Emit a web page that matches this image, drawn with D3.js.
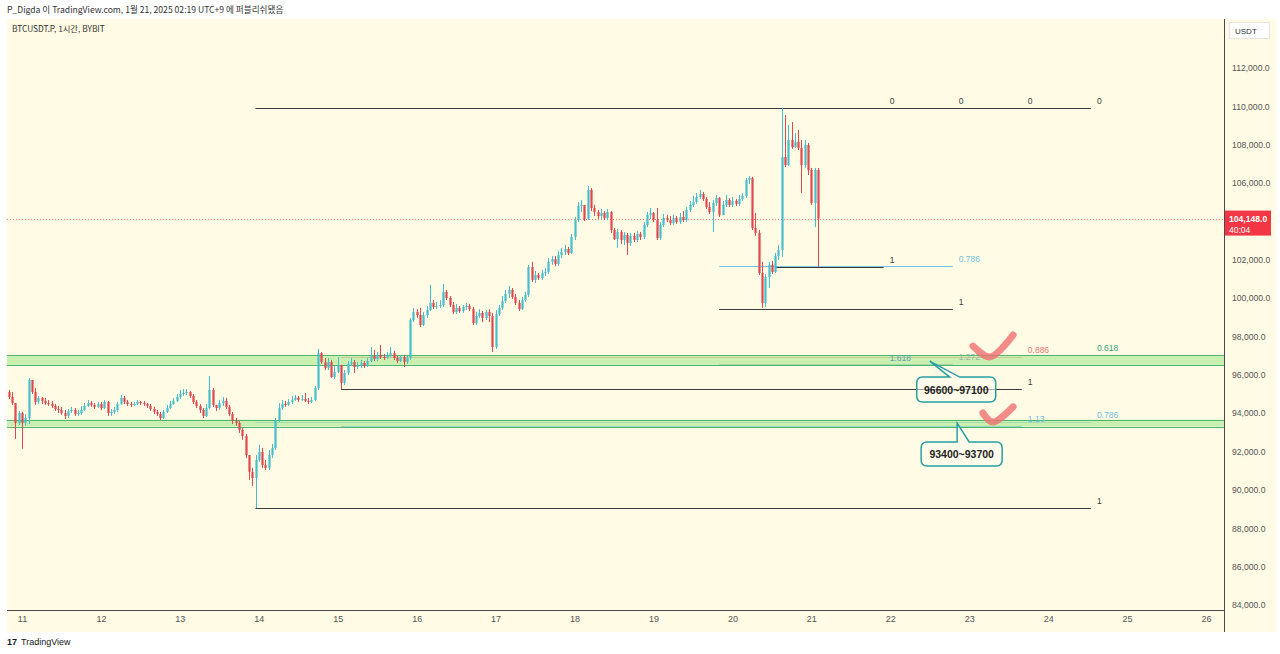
<!DOCTYPE html>
<html>
<head>
<meta charset="utf-8">
<script src="https://cdn.jsdelivr.net/npm/d3@7"></script>
<style>
  body { margin: 0; background: #fff; }
  svg { display: block; }
</style>
</head>
<body>
<svg id="chart"></svg>
<script>
// BTCUSDT.P 1h candles, first bar = Jan 10 20:00 (chart time, UTC+9)
const firstBar = Date.UTC(2025, 0, 10, 20);
const firstOpen = 95110;

const closes = [
  94850, 94530, 93490, 94010, 93490, 93750, 95730, 95110, 94590, 94800, 94640, 94530,
  94480, 94380, 94220, 94170, 94010, 93860, 94120, 94170, 93960, 94010, 94170, 94380,
  94530, 94430, 94330, 94480, 94270, 94590, 94010, 94070, 94170, 94480, 94800, 94590,
  94480, 94430, 94480, 94590, 94530, 94480, 94380, 94220, 94070, 93960, 93750, 94070,
  94270, 94480, 94640, 94850, 95000, 95060, 95110, 94900, 94590, 94380, 94170, 93860,
  94270, 95210, 94430, 94270, 94530, 94640, 94330, 93960, 93600, 93490, 93130, 92810,
  91820, 90940, 90620, 91560, 91980, 91300, 91150, 91820, 92190, 93650, 94270, 94480,
  94430, 94590, 94690, 94800, 94690, 94740, 94640, 94590, 94690, 95320, 97140, 96670,
  96360, 96670, 95890, 96150, 96520, 95580, 96100, 96570, 96670, 96410, 96460, 96620,
  96460, 96720, 96990, 96830, 97040, 96930, 96880, 97040, 97140, 96880, 96720, 96930,
  96670, 96880, 98860, 99280, 99120, 98600, 99120, 99380, 99750, 99540, 99590, 99640,
  100320, 100010, 99640, 99280, 99490, 99330, 99540, 99590, 99430, 98700, 99070, 99230,
  98970, 99280, 99070, 97450, 99170, 99490, 99850, 100220, 100430, 100060, 99750, 99430,
  99900, 100170, 101620, 100950, 101210, 101050, 101310, 101360, 101890, 102040, 101780, 102250,
  102410, 102560, 102350, 103190, 104070, 104800, 104860, 104130, 105640, 104700, 104490, 104280,
  104440, 104180, 104490, 103550, 103080, 103450, 103030, 103290, 102880, 103240, 103030, 103350,
  103190, 103810, 104340, 104440, 104070, 103140, 103810, 104180, 104070, 103920, 104180, 103970,
  104230, 104070, 104600, 104860, 105010, 105270, 105430, 105170, 104750, 104490, 104960, 105220,
  104340, 104860, 105120, 104860, 105070, 104910, 105170, 105330, 106160, 106270, 103660, 103400,
  101310, 99750, 101100, 101730, 101360, 102200, 102510, 107360, 106940, 108250, 107880, 108140,
  107830, 106940, 107980, 106680, 104960, 106680, 104148
];

const highs = [
  95210, 95110, 94530, 94120, 94070, 93960, 95840, 95730, 95320, 94900, 94850, 94800,
  94690, 94640, 94480, 94380, 94330, 94170, 94220, 94330, 94270, 94170, 94380, 94530,
  94690, 94640, 94530, 94590, 94590, 94690, 94640, 94220, 94330, 94590, 94950, 94900,
  94690, 94590, 94590, 94690, 94640, 94640, 94530, 94480, 94330, 94170, 94070, 94170,
  94430, 94640, 94800, 95000, 95210, 95260, 95260, 95160, 95000, 94690, 94480, 94270,
  94480, 95940, 95320, 94430, 94690, 94850, 94800, 94430, 94070, 93750, 93600, 93230,
  92920, 91820, 91150, 91820, 92350, 92190, 91560, 92080, 92400, 93750, 94530, 94690,
  94640, 94740, 94900, 94950, 94900, 94950, 95060, 94800, 94850, 95420, 97350, 97190,
  96880, 96880, 96780, 96460, 96930, 96520, 96260, 96720, 96880, 96780, 96670, 96780,
  96720, 96880, 97450, 97300, 97190, 97560, 97090, 97190, 97450, 97250, 96990, 97040,
  97040, 96990, 98970, 99490, 99430, 99490, 99280, 99590, 100690, 99900, 99800, 99900,
  100740, 100430, 100110, 99800, 99700, 99590, 99640, 99750, 99700, 99540, 99280, 99430,
  99330, 99380, 99430, 99230, 99380, 99640, 100110, 100430, 100630, 100530, 100220, 99900,
  100060, 100320, 101730, 101890, 101420, 101310, 101470, 101570, 102090, 102200, 102200, 102460,
  102620, 102770, 102670, 103340, 104230, 105010, 105120, 104860, 105850, 105740, 104860, 104600,
  104650, 104540, 104650, 104540, 103660, 103610, 103550, 103450, 103400, 103400, 103400, 103500,
  103450, 103970, 104490, 104700, 104490, 104700, 103970, 104390, 104340, 104280, 104340, 104280,
  104440, 104540, 104750, 105070, 105330, 105480, 105640, 105540, 105270, 105010, 105120, 105380,
  105270, 105070, 105380, 105220, 105270, 105170, 105380, 105480, 106270, 106370, 106320, 104440,
  103550, 101890, 101260, 101890, 101940, 102350, 102770, 109910, 109550, 109030, 109180, 108610,
  108770, 108250, 108250, 108090, 106790, 106790, 106790
];

const lows = [
  94740, 94430, 92660, 93390, 92140, 93340, 93440, 95000, 94430, 94480, 94480, 94430,
  94380, 94270, 94120, 94010, 93910, 93700, 93750, 94010, 93860, 93860, 93910, 94120,
  94330, 94330, 94220, 94270, 94170, 94220, 93860, 93860, 93960, 94070, 94430, 94480,
  94380, 94330, 94380, 94430, 94430, 94380, 94270, 94120, 93960, 93860, 93650, 93700,
  94010, 94220, 94430, 94590, 94740, 94900, 94950, 94800, 94480, 94270, 94010, 93750,
  93800, 94220, 94330, 94120, 94170, 94380, 94220, 93860, 93440, 93340, 92970, 92610,
  91670, 90520, 90210, 89060, 91460, 91150, 91040, 91040, 91670, 92080, 93540, 94170,
  94330, 94380, 94480, 94640, 94590, 94640, 94590, 94480, 94530, 94640, 95210, 96570,
  96250, 96250, 95840, 95790, 96100, 95260, 95470, 95990, 96460, 96100, 96310, 96360,
  96360, 96410, 96670, 96720, 96720, 96830, 96780, 96830, 96930, 96780, 96620, 96670,
  96410, 96570, 96780, 98760, 98970, 98500, 98550, 98970, 99330, 99430, 99430, 99490,
  99540, 99900, 99540, 99170, 99170, 99230, 99230, 99380, 99330, 98600, 98600, 98970,
  98760, 98860, 98760, 97190, 97350, 99070, 99380, 99750, 100010, 99960, 99640, 99330,
  99380, 99800, 100060, 100840, 100790, 100950, 100950, 101160, 101260, 101730, 101680, 101680,
  102090, 102250, 102250, 102300, 103030, 103970, 104490, 104020, 104070, 104540, 104280, 104130,
  104130, 104070, 104070, 103400, 103030, 102620, 102820, 102770, 102250, 102720, 102930, 102930,
  103030, 103080, 103710, 104130, 103970, 103030, 103030, 103710, 103970, 103810, 103810, 103870,
  103870, 103970, 103970, 104490, 104750, 104910, 105170, 105070, 104650, 104390, 103450, 104800,
  104230, 104340, 104750, 104750, 104750, 104800, 104800, 105070, 105220, 105950, 103550, 103240,
  101210, 99490, 99540, 100530, 101260, 101310, 101990, 102150, 106840, 106890, 107780, 107830,
  107720, 105480, 106790, 106420, 104860, 103710, 101630
];

const priceTicks = [84000, 86000, 88000, 90000, 92000, 94000, 96000, 98000, 100000, 102000, 104000, 106000, 108000, 110000, 112000];
const dayTicks = [11, 12, 13, 14, 15, 16, 17, 18, 19, 20, 21, 22, 23, 24, 25, 26];
const lastPrice = 104148;
const countdown = '40:04';

// fibonacci tools drawn on the chart: anchors in time / price, visible levels
const fibTools = [
  { t0: '2025-01-20T13:00Z', t1: '2025-01-21T22:00Z', p0: 109914, p1: 101630, levels: [0, 1, 1.618] },
  { t0: '2025-01-19T20:00Z', t1: '2025-01-22T19:00Z', p0: 109914, p1: 99430, levels: [0, 0.786, 1, 1.272] },
  { t0: '2025-01-15T01:00Z', t1: '2025-01-23T16:00Z', p0: 109914, p1: 95260, levels: [0, 0.886, 1, 1.13] },
  { t0: '2025-01-13T23:00Z', t1: '2025-01-24T13:00Z', p0: 109914, p1: 89060, levels: [0, 0.618, 0.786, 1] }
];

// support zones (price ranges) and their callouts
const zoneLow = [96520, 93300];
const zoneHigh = [97040, 93660];
const zoneLabels = ['96600~97100', '93400~93700'];
const calloutTipTime = ['2025-01-22T12:00Z', '2025-01-22T20:20Z'];
const calloutTipPrice = [96720, 93490];

// hand-drawn check marks: [time, price] points
const checkMarks = [
  [['2025-01-23T01:10Z', 97500], ['2025-01-23T06:20Z', 96930], ['2025-01-23T13:20Z', 98080]],
  [['2025-01-23T04:10Z', 94010], ['2025-01-23T07:10Z', 93540], ['2025-01-23T13:20Z', 94330]]
];

const W = 1280, H = 654;
const plotL = 7, plotR = 1224, plotT = 19, plotB = 610;
const upColor = '#45bfcd', downColor = '#e4464f';
const font = '"Liberation Sans", Arial, sans-serif';

const svg = d3.select('#chart').attr('width', W).attr('height', H)
  .style('font-family', font);

const x = d3.scaleUtc()
  .domain([Date.UTC(2025, 0, 11), Date.UTC(2025, 0, 26)])
  .range([22, 1206]);

const y = d3.scaleLinear()
  .domain([84000, 112000])
  .range([605, 68]);

const bars = closes.map((c, i) => ({
  t: new Date(firstBar + i * 3600e3),
  o: i === 0 ? firstOpen : closes[i - 1],
  c: c,
  h: highs[i],
  l: lows[i]
}));

// backgrounds
svg.append('rect').attr('width', W).attr('height', H).attr('fill', '#fff');
svg.append('rect')
  .attr('x', plotL).attr('y', plotT)
  .attr('width', 1276 - plotL).attr('height', 632 - plotT)
  .attr('fill', '#fffbe4');

const defs = svg.append('defs');
defs.append('clipPath').attr('id', 'plot')
  .append('rect').attr('x', plotL).attr('y', plotT)
  .attr('width', plotR - plotL).attr('height', plotB - plotT);

const plot = svg.append('g').attr('clip-path', 'url(#plot)');

// current price dotted line
plot.append('line')
  .attr('x1', plotL).attr('x2', plotR)
  .attr('y1', Math.round(y(lastPrice)) + 0.5).attr('y2', Math.round(y(lastPrice)) + 0.5)
  .attr('stroke', '#ef5350').attr('stroke-opacity', 0.8)
  .attr('stroke-dasharray', '1,2');

// fib levels
const levelColor = {
  0: '#3b3b3b', 1: '#3b3b3b', 0.618: '#3aa97a', 0.786: '#7cc3e6',
  0.886: '#f2777c', 1.13: '#7cc3e6', 1.272: '#8fb3a8', 1.618: '#3d9ad8'
};
const levelText = {
  0: '#3b3b3b', 1: '#3b3b3b', 0.618: '#36a17a', 0.786: '#72bfe3',
  0.886: '#f0767b', 1.13: '#72bfe3', 1.272: '#9bb8ae', 1.618: '#5f9fb0'
};

const fibLines = svg.append('g');
const fibLabels = [];
fibTools.forEach(tool => {
  const xa = x(new Date(tool.t0)), xb = x(new Date(tool.t1));
  tool.levels.forEach(lv => {
    const p = tool.p0 + (tool.p1 - tool.p0) * lv;
    const yy = Math.round(y(p)) + 0.5;
    fibLines.append('line')
      .attr('x1', xa).attr('x2', xb).attr('y1', yy).attr('y2', yy)
      .attr('stroke', levelColor[lv]).attr('stroke-width', 1);
    fibLabels.push({ x: xb + 6, y: yy - 5, lv: lv });
  });
});

// zones, drawn over the fib lines so those look muted inside the bands
const zoneG = svg.append('g').attr('clip-path', 'url(#plot)');
zoneLow.forEach((lo, i) => {
  zoneG.append('rect')
    .attr('x', plotL).attr('width', plotR - plotL)
    .attr('y', y(zoneHigh[i])).attr('height', y(lo) - y(zoneHigh[i]))
    .attr('fill', '#b6ec9c').attr('fill-opacity', 0.72);
  [zoneHigh[i], lo].forEach(p => {
    zoneG.append('line')
      .attr('x1', plotL).attr('x2', plotR)
      .attr('y1', Math.round(y(p)) + 0.5).attr('y2', Math.round(y(p)) + 0.5)
      .attr('stroke', '#52b56f').attr('stroke-width', 1.2);
  });
});

// fib level labels sit above the zones
svg.append('g').selectAll('text').data(fibLabels).enter().append('text')
  .attr('x', d => d.x).attr('y', d => d.y)
  .attr('font-size', 8.5)
  .attr('fill', d => levelText[d.lv])
  .text(d => String(d.lv));

// candles
const candles = svg.append('g').attr('clip-path', 'url(#plot)');
const cg = candles.selectAll('g.bar').data(bars).enter().append('g').attr('class', 'bar');
cg.append('line')
  .attr('x1', d => Math.round(x(d.t)) + 0.5)
  .attr('x2', d => Math.round(x(d.t)) + 0.5)
  .attr('y1', d => y(d.h))
  .attr('y2', d => y(d.l))
  .attr('stroke', d => d.c >= d.o ? upColor : downColor)
  .attr('stroke-width', 1);
cg.append('rect')
  .attr('x', d => Math.round(x(d.t)) - 0.6)
  .attr('width', 2.2)
  .attr('y', d => y(Math.max(d.o, d.c)))
  .attr('height', d => Math.max(1, Math.abs(y(d.o) - y(d.c))))
  .attr('fill', d => d.c >= d.o ? upColor : downColor);

// callouts
const callG = svg.append('g');
const callShape = [
  { bx0: -13, bx1: 66, by0: 16, by1: 41, ta: 20, tb: 30 },
  { bx0: -36, bx1: 45, by0: 19, by1: 43, ta: 0, tb: 12 }
];
zoneLabels.forEach((lab, i) => {
  const tx = x(new Date(calloutTipTime[i])), ty = y(calloutTipPrice[i]);
  const s = callShape[i], r = 6;
  const x0 = tx + s.bx0, x1 = tx + s.bx1, y0 = ty + s.by0, y1 = ty + s.by1;
  const path = d3.path();
  path.moveTo(x0 + r, y0);
  path.lineTo(tx + s.ta, y0);
  path.lineTo(tx, ty);
  path.lineTo(tx + s.tb, y0);
  path.lineTo(x1 - r, y0);
  path.quadraticCurveTo(x1, y0, x1, y0 + r);
  path.lineTo(x1, y1 - r);
  path.quadraticCurveTo(x1, y1, x1 - r, y1);
  path.lineTo(x0 + r, y1);
  path.quadraticCurveTo(x0, y1, x0, y1 - r);
  path.lineTo(x0, y0 + r);
  path.quadraticCurveTo(x0, y0, x0 + r, y0);
  path.closePath();
  callG.append('path')
    .attr('d', path.toString())
    .attr('fill', 'rgba(255,253,240,0.55)')
    .attr('stroke', '#2a9fa3').attr('stroke-width', 1.5);
  callG.append('text')
    .attr('x', (x0 + x1) / 2).attr('y', (y0 + y1) / 2 + 4)
    .attr('text-anchor', 'middle')
    .attr('font-size', 10.5).attr('font-weight', 'bold')
    .attr('fill', '#222')
    .text(lab);
});

// check marks
const checkLine = d3.line()
  .x(d => x(new Date(d[0])))
  .y(d => y(d[1]))
  .curve(d3.curveCatmullRom.alpha(0.5));
checkMarks.forEach(pts => {
  svg.append('path')
    .attr('d', checkLine(pts))
    .attr('fill', 'none')
    .attr('stroke', '#f06f72').attr('stroke-opacity', 0.8)
    .attr('stroke-width', 7)
    .attr('stroke-linecap', 'round').attr('stroke-linejoin', 'round');
});

// axes (the tick hidden behind the last-price tag is left out)
const ly = y(lastPrice);
const yAxis = d3.axisRight(y)
  .tickValues(priceTicks.filter(p => Math.abs(y(p) - ly - 4) > 14))
  .tickSize(0)
  .tickPadding(8)
  .tickFormat(d3.format(',.1f'));
const gy = svg.append('g').attr('transform', 'translate(' + plotR + ',0)').call(yAxis);
gy.select('.domain').remove();
gy.selectAll('text').attr('font-size', 8.6).attr('fill', '#555').attr('font-family', font);

const xAxis = d3.axisBottom(x)
  .tickValues(dayTicks.map(d => new Date(Date.UTC(2025, 0, d))))
  .tickSize(0)
  .tickPadding(6)
  .tickFormat(d3.utcFormat('%-d'));
const gx = svg.append('g').attr('transform', 'translate(0,' + plotB + ')').call(xAxis);
gx.select('.domain').remove();
gx.selectAll('text').attr('font-size', 9).attr('fill', '#555').attr('font-family', font);

svg.append('line')
  .attr('x1', plotL).attr('x2', plotR + 0.5).attr('y1', plotB + 0.5).attr('y2', plotB + 0.5)
  .attr('stroke', '#4a4a4a');
svg.append('line')
  .attr('x1', plotR + 0.5).attr('x2', plotR + 0.5).attr('y1', plotT).attr('y2', 632)
  .attr('stroke', '#4a4a4a');

// last price tag
svg.append('rect')
  .attr('x', plotR + 1).attr('y', ly - 8).attr('width', 46).attr('height', 25)
  .attr('fill', '#f23645');
svg.append('text')
  .attr('x', plotR + 5).attr('y', ly + 3)
  .attr('font-size', 8.6).attr('font-weight', 'bold').attr('fill', '#fff')
  .text(d3.format(',.1f')(lastPrice));
svg.append('text')
  .attr('x', plotR + 5).attr('y', ly + 14)
  .attr('font-size', 8.5).attr('fill', '#fff')
  .text(countdown);

// currency box
svg.append('rect')
  .attr('x', 1229.5).attr('y', 22.5).attr('width', 40).attr('height', 16)
  .attr('fill', '#fff').attr('stroke', '#e3e3e3');
svg.append('text')
  .attr('x', 1235).attr('y', 34)
  .attr('font-size', 8).attr('fill', '#333')
  .text('USDT');

// header and titles
svg.append('text')
  .attr('x', 7).attr('y', 13)
  .attr('font-size', 8.6).attr('fill', '#333')
  .attr('font-family', '"Noto Sans CJK KR", "Noto Sans", sans-serif')
  .text('P_Digda 이 TradingView.com, 1월 21, 2025 02:19 UTC+9 에 퍼블리쉬됐음');
svg.append('text')
  .attr('x', 12).attr('y', 32)
  .attr('font-size', 8.3).attr('fill', '#333')
  .attr('font-family', '"Noto Sans CJK KR", "Noto Sans", sans-serif')
  .text('BTCUSDT.P, 1시간, BYBIT');

// footer logo
svg.append('text')
  .attr('x', 7).attr('y', 645)
  .attr('font-size', 9).attr('font-weight', 'bold').attr('fill', '#131722')
  .text('17');
svg.append('text')
  .attr('x', 21).attr('y', 645)
  .attr('font-size', 9).attr('fill', '#131722')
  .text('TradingView');
</script>
</body>
</html>
